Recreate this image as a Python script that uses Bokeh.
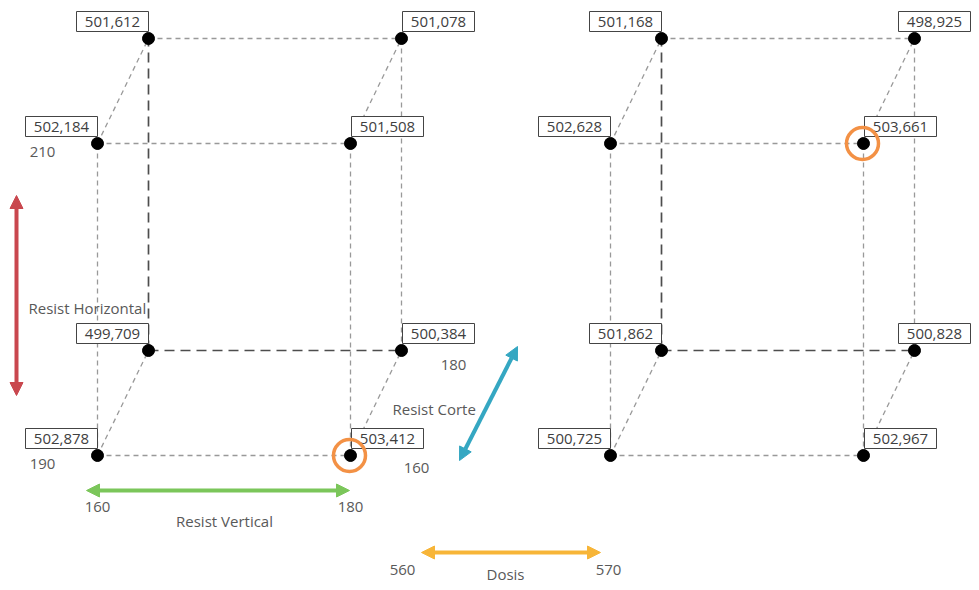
from bokeh.plotting import figure
from bokeh.models import Range1d, ColumnDataSource, Arrow, NormalHead
from bokeh.core.properties import value
from bokeh.embed import file_html
from bokeh.resources import INLINE

# ---- data ----
resist_vertical = [160, 180]
resist_horizontal = [190, 210]
resist_corte = [160, 180]
dosis = [560, 570]
# responses ordered by (RV, RH, RC): RV outer, RH middle, RC inner
combos = [(v, h, c) for v in resist_vertical for h in resist_horizontal for c in resist_corte]
resp_560 = [502.878, 499.709, 502.184, 501.612, 503.412, 500.384, 501.508, 501.078]
resp_570 = [500.725, 501.862, 502.628, 501.168, 502.967, 500.828, 503.661, 498.925]
responses = {560: resp_560, 570: resp_570}

# ---- layout (picture pixel coordinates) ----
W, H = 971, 582
X0, Y0 = 97, 455
DX_RV, DX_RC, DX_D = 253, 51, 513
DY_RH, DY_RC = 312, 105
BOX_W, BOX_H = 72, 20
FONT = value("Open Sans")


def proj(v, h, c, d):
    fv = (v - resist_vertical[0]) / (resist_vertical[1] - resist_vertical[0])
    fh = (h - resist_horizontal[0]) / (resist_horizontal[1] - resist_horizontal[0])
    fc = (c - resist_corte[0]) / (resist_corte[1] - resist_corte[0])
    fd = (d - dosis[0]) / (dosis[1] - dosis[0])
    return X0 + fv * DX_RV + fc * DX_RC + fd * DX_D, Y0 - fh * DY_RH - fc * DY_RC


p = figure(width=W, height=H, x_range=Range1d(0, W), y_range=Range1d(H, 0),
           output_backend="svg", toolbar_location=None, min_border=0)
p.axis.visible = False
p.grid.visible = False
p.outline_line_color = None
p.background_fill_color = "white"

light_xs, light_ys, dark_xs, dark_ys = [], [], [], []
px, py, lab, bx, by, hx, hy = [], [], [], [], [], [], []
for d in dosis:
    vals = responses[d]
    for i, (v, h, c) in enumerate(combos):
        for j, (v2, h2, c2) in enumerate(combos):
            if j <= i:
                continue
            diff = (v != v2) + (h != h2) + (c != c2)
            if diff != 1:
                continue
            x1, y1 = proj(v, h, c, d)
            x2, y2 = proj(v2, h2, c2, d)
            hidden = (v, h, c) == (resist_vertical[0], resist_horizontal[0], resist_corte[1])
            if hidden:
                dark_xs.append([x1, x2]); dark_ys.append([y1, y2])
            else:
                light_xs.append([x1, x2]); light_ys.append([y1, y2])
        x, y = proj(v, h, c, d)
        px.append(x); py.append(y)
        lab.append(f"{vals[i]:.3f}".replace(".", ","))
        if v == resist_vertical[0]:
            cx = x - BOX_W / 2
        else:
            cx = x + BOX_W / 2 + 1
        cx = min(cx, W - BOX_W / 2 - 1)  # keep the box inside the canvas
        bx.append(cx)
        by.append(y - 17)
    k = max(range(len(vals)), key=lambda i: vals[i])
    x, y = proj(*combos[k], d)
    hx.append(x - 1); hy.append(y)

p.multi_line(light_xs, light_ys, line_color="#999999", line_width=1.3, line_dash="5 4")
p.multi_line(dark_xs, dark_ys, line_color="#4d4d4d", line_width=1.7, line_dash="10 6")

src = ColumnDataSource(dict(x=px, y=py, bx=bx, by=by, lab=lab))
p.rect(x="bx", y="by", width=BOX_W, height=BOX_H, width_units="screen", height_units="screen",
       source=src, fill_color="white", line_color="#444444", line_width=1)
p.text(x="bx", y="by", text="lab", source=src, text_align="center", text_baseline="middle",
       text_font=FONT, text_font_size="15px", text_color="#404040")
p.scatter(x="x", y="y", source=src, size=12, color="black")
p.scatter(x=hx, y=hy, size=32, fill_color=None, line_color="#F39145", line_width=3.5)


def arrow(x1, y1, x2, y2, col):
    p.add_layout(Arrow(x_start=x1, y_start=y1, x_end=x2, y_end=y2, line_color=col, line_width=4,
                       start=NormalHead(size=13, fill_color=col, line_color=col),
                       end=NormalHead(size=13, fill_color=col, line_color=col)))


arrow(16, 195, 16, 395, "#C9474E")
arrow(86, 490, 349, 490, "#7BC65A")
arrow(459, 460, 517, 346, "#35A7C2")
arrow(421, 552, 600, 552, "#F7B538")


def txt(x, y, s, align="center"):
    p.text(x=[x], y=[y], text=[s], text_align=align, text_baseline="middle",
           text_font=FONT, text_font_size="15px", text_color="#595959")


txt(28, 307, "Resist Horizontal", "left")
txt(42, 151, str(resist_horizontal[1]))
txt(42, 463, str(resist_horizontal[0]))
txt(97, 506, str(resist_vertical[0]))
txt(350, 506, str(resist_vertical[1]))
txt(224, 520, "Resist Vertical")
txt(392, 408, "Resist Corte", "left")
txt(416, 467, str(resist_corte[0]))
txt(453, 364, str(resist_corte[1]))
txt(402, 569, str(dosis[0]))
txt(608, 569, str(dosis[1]))
txt(505, 573, "Dosis")

open("out.html", "w").write(file_html(p, INLINE))
